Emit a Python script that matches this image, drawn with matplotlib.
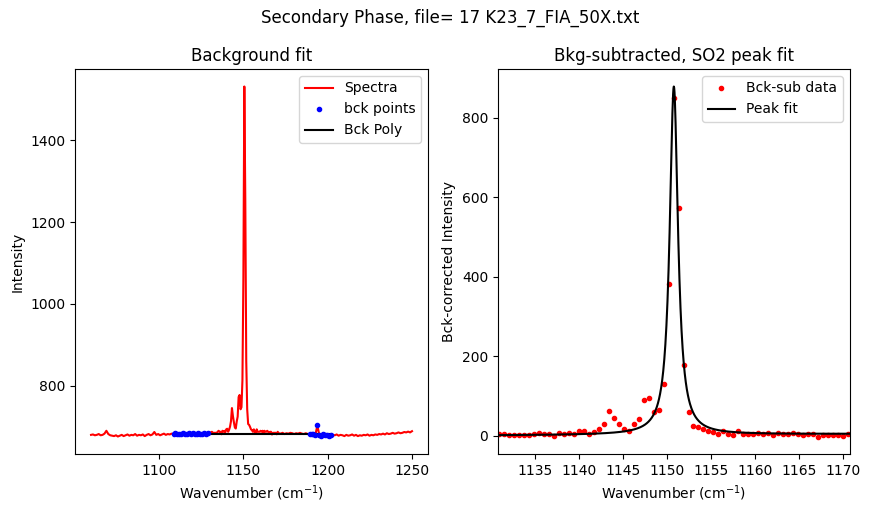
import numpy as np
import matplotlib.pyplot as plt

# background-subtracted data in the SO2 peak window (right panel)
win_start = 1131.0
win_end = 1170.5
bcksub = [4, 5, 2.5, 2.5, 2.5, 2.5, 2.5, 5, 7.5, 5,
          5, -1, 7.5, 5, 7.5, 3.5, 11, 12.5, 5, 10,
          17.6, 31, 63, 44, 29, 16, 13, 30, 42, 90,
          95, 60, 65, 131, 382, 849, 573, 178, 60, 24,
          22, 17, 11, 9, 5, 11, 4, 1, 11, 5,
          5, 5, 7.5, 5, 7.5, 2.5, 7.5, 5, 5, 7.5,
          5, 2.5, 5, 5, -1.7, 2.5, 2.5, 2.5, 2.5, -1, 5]

# raw spectrum outside the peak window
left_start, left_end = 1060.0, 1130.4
spec_left = [680, 681, 679, 680, 682, 679, 680, 683, 690, 682,
             679, 678, 677, 679, 676, 678, 680, 677, 679, 681,
             678, 680, 679, 682, 678, 680, 679, 681, 677, 680,
             682, 679, 681, 687, 680, 682, 679, 681, 683, 680,
             682, 681, 683, 682, 684, 681, 683, 682, 684, 683,
             681, 684, 682, 685, 683, 682, 684, 681, 683, 684,
             682, 685, 683]
right_start, right_end = 1171.1, 1250.0
spec_right = [684, 683, 685, 682, 684, 683, 685, 684, 682, 684,
              683, 685, 683, 682, 684, 682, 681, 683, 681, 680,
              703, 680, 678, 681, 679, 680, 678, 679, 680, 679,
              681, 678, 680, 679, 677, 680, 678, 679, 681, 678,
              680, 677, 679, 678, 680, 679, 681, 678, 680, 679,
              681, 680, 682, 681, 683, 681, 684, 682, 683, 685,
              683, 684, 686, 684, 685, 687, 686, 688, 686, 689]

# background polynomial and where the bck points were taken
bck_poly = [0.0, 682.5]
bck_ranges = [(1108.3, 1129.8), (1189.3, 1202.4)]

# lorentzian peak fit
peak_center = 1150.78
peak_amp = 876
peak_hwhm = 0.57
fit_bg = [0.09, 1.0]
fit_lo, fit_hi = 1130.83, 1170.76

x_win = np.linspace(win_start, win_end, len(bcksub))
x_left = np.linspace(left_start, left_end, len(spec_left))
x_right = np.linspace(right_start, right_end, len(spec_right))
bcksub = np.array(bcksub)

x_spec = np.concatenate([x_left, x_win, x_right])
y_spec = np.concatenate([spec_left, bcksub + np.polyval(bck_poly, x_win), spec_right])

mask = np.zeros(len(x_spec), bool)
for lo, hi in bck_ranges:
    mask |= (x_spec >= lo) & (x_spec <= hi)
x_bck = x_spec[mask]
y_bck = y_spec[mask]
x_poly = x_spec[(x_spec >= x_bck.min()) & (x_spec <= x_bck.max())]

x_fit = np.linspace(fit_lo, fit_hi, 1000)
y_fit = peak_amp / (1 + ((x_fit - peak_center) / peak_hwhm) ** 2) + np.polyval(fit_bg, x_fit - fit_lo)

fig = plt.figure(figsize=(8.7, 5.13), dpi=100)
ax1 = fig.add_axes([0.0862, 0.115, 0.4058, 0.7505])
ax2 = fig.add_axes([0.5724, 0.115, 0.4046, 0.7505])
fig.suptitle('Secondary Phase, file= 17 K23_7_FIA_50X.txt', x=0.517, y=0.982)

ax1.plot(x_spec, y_spec, '-r', label='Spectra', zorder=1.5)
ax1.plot(x_bck, y_bck, '.b', label='bck points', zorder=2)
ax1.plot(x_poly, np.polyval(bck_poly, x_poly), '-k', label='Bck Poly', zorder=1.8)
ax1.set_title('Background fit')
ax1.set_xlabel('Wavenumber (cm$^{-1}$)')
ax1.set_ylabel('Intensity')
ax1.legend(loc='upper right')

ax2.plot(x_win, bcksub, '.r', label='Bck-sub data')
ax2.plot(x_fit, y_fit, '-k', label='Peak fit')
ax2.set_xlim(fit_lo, fit_hi)
ax2.set_title('Bkg-subtracted, SO2 peak fit')
ax2.set_xlabel('Wavenumber (cm$^{-1}$)')
ax2.set_ylabel('Bck-corrected Intensity')
ax2.legend(loc='upper right')

fig.savefig('out.png', dpi=100)
